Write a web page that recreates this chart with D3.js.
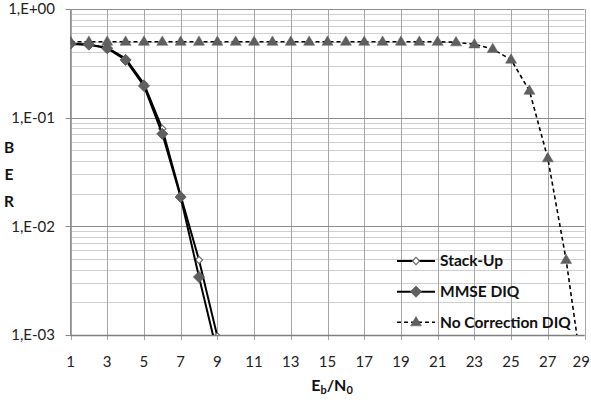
<!DOCTYPE html>
<html><head><meta charset="utf-8">
<script src="https://cdn.jsdelivr.net/npm/d3@7"></script>
<style>body{margin:0;background:#fff}svg{display:block}</style>
</head><body>
<script>
const xValues = d3.range(1, 30);
const stackUp = [0.48, 0.47, 0.44, 0.35, 0.205, 0.079, 0.0192, 0.0049, 0.00097];
const mmseDiq = [0.48, 0.47, 0.435, 0.34, 0.196, 0.071, 0.0186, 0.00342, 0.00068];
const noCorrection = [0.5,0.5,0.5,0.5,0.5,0.5,0.5,0.5,0.5,0.5,0.5,0.5,0.5,0.5,0.5,0.5,0.5,0.5,0.5,0.5,0.5,0.494,0.473,0.428,0.342,0.177,0.0423,0.0049,0.00032];
const yTickValues = [1, 0.1, 0.01, 0.001];
const yTickLabels = ["1,E+00", "1,E-01", "1,E-02", "1,E-03"];
const xTickValues = d3.range(1, 30, 2);
const seriesNames = ["Stack-Up", "MMSE DIQ", "No Correction DIQ"];

const W = 591, H = 405;
const L = 70.5, R = 584.5, T = 9, B = 335;
const font = "Lato, 'Open Sans', sans-serif";

const svg = d3.select("body").append("svg").attr("width", W).attr("height", H);
const x = d3.scaleLinear().domain([1, 29]).range([L, R]);
const y = d3.scaleLog().domain([0.001, 1]).range([B, T]);

// minor gridlines
const minors = [];
[0.001, 0.01, 0.1].forEach(d => { for (let k = 2; k <= 9; k++) minors.push(d * k); });
svg.append("g").selectAll("line").data(minors).join("line")
  .attr("x1", L).attr("x2", R).attr("y1", d => Math.round(y(d)) + 0.5).attr("y2", d => Math.round(y(d)) + 0.5)
  .attr("stroke", "#cfcfcf").attr("stroke-width", 1);
// vertical gridlines
svg.append("g").selectAll("line").data(xTickValues).join("line")
  .attr("x1", d => Math.round(x(d)) + 0.5).attr("x2", d => Math.round(x(d)) + 0.5)
  .attr("y1", T).attr("y2", B + 5)
  .attr("stroke", "#a6a6a6").attr("stroke-width", 1);
// major gridlines
svg.append("g").selectAll("line").data(yTickValues).join("line")
  .attr("x1", L - 5).attr("x2", R).attr("y1", d => Math.round(y(d)) + 0.5).attr("y2", d => Math.round(y(d)) + 0.5)
  .attr("stroke", "#8c8c8c").attr("stroke-width", 1.2);
// left axis line
svg.append("line").attr("x1", L).attr("x2", L).attr("y1", T).attr("y2", B)
  .attr("stroke", "#8c8c8c").attr("stroke-width", 1);
// bottom axis
svg.append("line").attr("x1", L).attr("x2", R).attr("y1", B + 0.5).attr("y2", B + 0.5)
  .attr("stroke", "#7f7f7f").attr("stroke-width", 1.6);

// y tick labels
svg.append("g").selectAll("text").data(yTickValues).join("text")
  .attr("x", 55).attr("y", d => y(d)).attr("dy", "0.35em")
  .attr("text-anchor", "end").attr("font-family", font).attr("font-size", 15).attr("fill", "#222")
  .text((d, i) => yTickLabels[i]);
// x tick labels (last one kept inside the window edge)
svg.append("g").selectAll("text").data(xTickValues).join("text")
  .attr("x", (d, i) => i === xTickValues.length - 1 ? W - 1 : x(d)).attr("y", 362).attr("dy", "0.35em")
  .attr("text-anchor", (d, i) => i === xTickValues.length - 1 ? "end" : "middle")
  .attr("font-family", font).attr("font-size", 15).attr("fill", "#222")
  .text(d => d);

// axis titles
["B", "E", "R"].forEach((c, i) => {
  svg.append("text").attr("x", 9).attr("y", 148 + i * 26.8).attr("dy", "0.35em")
    .attr("text-anchor", "middle").attr("font-family", font).attr("font-weight", "bold")
    .attr("font-size", 15.5).attr("fill", "#111").text(c);
});
const xt = svg.append("text").attr("x", 332).attr("y", 391).attr("text-anchor", "middle")
  .attr("font-family", font).attr("font-weight", "bold").attr("font-size", 16).attr("fill", "#111");
xt.append("tspan").text("E");
xt.append("tspan").attr("font-size", 11).attr("dy", 3).text("b");
xt.append("tspan").attr("dy", -3).text("/N");
xt.append("tspan").attr("font-size", 11).attr("dy", 3).text("0");

// clip
svg.append("clipPath").attr("id", "clip").append("rect")
  .attr("x", L).attr("y", T - 10).attr("width", R - L + 2).attr("height", B - T + 10);
const plot = svg.append("g").attr("clip-path", "url(#clip)");
const line = d3.line().x((d, i) => x(xValues[i])).y(d => y(d));

const grey = "#5f5f5f";
const diamond = (s) => `M0,${-s}L${s},0L0,${s}L${-s},0Z`;
const tri = (s) => `M0,${-s * 1.05}L${s},${s * 0.65}L${-s},${s * 0.65}Z`;

function drawSeries(data, opts) {
  plot.append("path").datum(data).attr("d", line).attr("fill", "none")
    .attr("stroke", "#000").attr("stroke-width", opts.width)
    .attr("stroke-dasharray", opts.dash || null);
  plot.append("g").selectAll("path").data(data).join("path")
    .attr("transform", (d, i) => `translate(${x(xValues[i])},${y(d)})`)
    .attr("d", opts.shape)
    .attr("fill", opts.fill).attr("stroke", opts.stroke).attr("stroke-width", opts.sw);
}
const opts = [
  { width: 2, shape: diamond(3.6), fill: "#fff", stroke: "#6a6a6a", sw: 1.2 },
  { width: 2, shape: diamond(5.5), fill: grey, stroke: grey, sw: 1 },
  { width: 1.6, dash: "4,3", shape: tri(5.5), fill: grey, stroke: grey, sw: 0.5 }
];
drawSeries(stackUp, opts[0]);
drawSeries(mmseDiq, opts[1]);
drawSeries(noCorrection, opts[2]);

// legend
const legY = [261, 291.7, 322.3];
seriesNames.forEach((name, i) => {
  const o = opts[i];
  const g = svg.append("g");
  g.append("line").attr("x1", 397).attr("x2", 435).attr("y1", legY[i]).attr("y2", legY[i])
    .attr("stroke", "#000").attr("stroke-width", o.width).attr("stroke-dasharray", o.dash || null);
  g.append("path").attr("transform", `translate(416,${legY[i]})`).attr("d", o.shape)
    .attr("fill", o.fill).attr("stroke", o.stroke).attr("stroke-width", o.sw);
  g.append("text").attr("x", 440).attr("y", legY[i]).attr("dy", "0.35em")
    .attr("font-family", font).attr("font-weight", "bold").attr("font-size", 15.5).attr("fill", "#111")
    .text(name);
});
</script>
</body></html>
